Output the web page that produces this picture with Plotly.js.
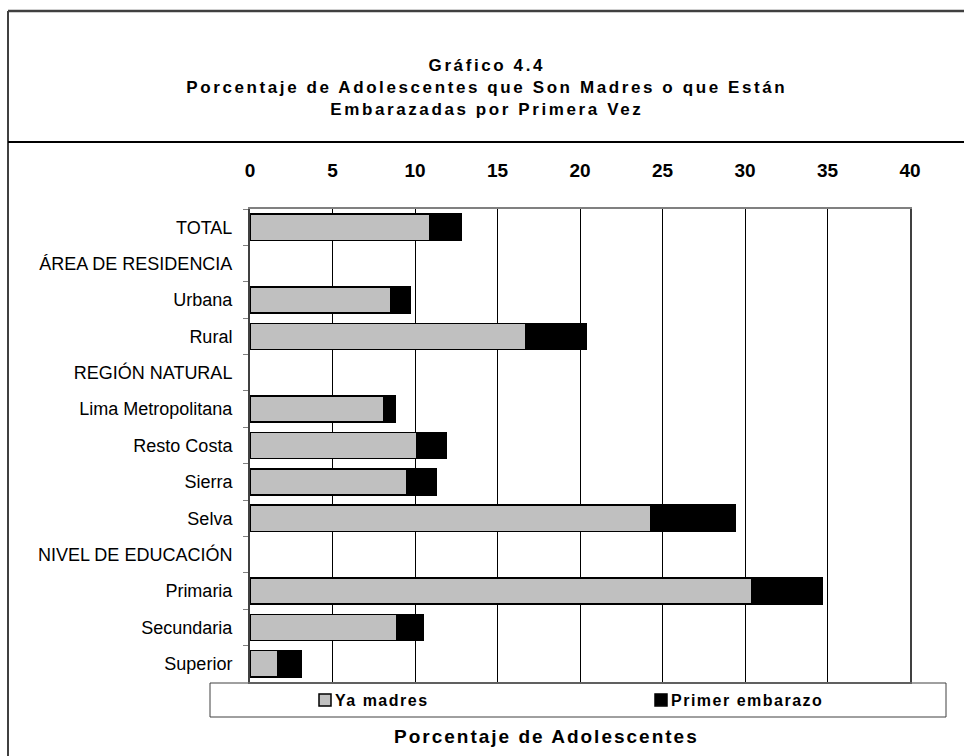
<!DOCTYPE html>
<html>
<head>
<meta charset="utf-8">
<script src="https://cdn.plot.ly/plotly-3.0.1.min.js"></script>
<style>
html,body{margin:0;padding:0;background:#fff;}
#chart{width:964px;height:756px;}
.legendtext,.legend2text{letter-spacing:1.5px;transform:translateX(-10px);}
.gtitle{letter-spacing:2.6px;}
.annotation-text{letter-spacing:2px;}
</style>
</head>
<body>
<div id="chart"></div>
<script>
const categories = ['TOTAL','ÁREA DE RESIDENCIA','Urbana','Rural','REGIÓN NATURAL','Lima Metropolitana','Resto Costa','Sierra','Selva','NIVEL DE EDUCACIÓN','Primaria','Secundaria','Superior'];
const yaMadres = [10.9, null, 8.5, 16.7, null, 8.1, 10.1, 9.5, 24.3, null, 30.4, 8.9, 1.7];
const primerEmbarazo = [1.9, null, 1.2, 3.7, null, 0.7, 1.8, 1.8, 5.1, null, 4.3, 1.6, 1.4];
const seriesNames = ['Ya madres', 'Primer embarazo'];
const xTicks = [0, 5, 10, 15, 20, 25, 30, 35, 40];

const FONT = 'Arial, "Liberation Sans", sans-serif';

const traces = [
  {type:'bar', orientation:'h', name:seriesNames[0], y:categories, x:yaMadres, legend:'legend',
   marker:{color:'#C0C0C0', line:{color:'#000', width:1.5}}, width:0.72, hoverinfo:'x+y'},
  {type:'bar', orientation:'h', name:seriesNames[1], y:categories, x:primerEmbarazo, legend:'legend2',
   marker:{color:'#000000', line:{color:'#000', width:1.5}}, width:0.72, hoverinfo:'x+y'}
];

const legendBase = {
  orientation:'h', xanchor:'left', y:(682-700)/473, yanchor:'middle',
  font:{family:FONT, size:16, weight:'bold', color:'#000'},
  bgcolor:'rgba(0,0,0,0)', borderwidth:0
};

const layout = {
  width:964, height:756,
  paper_bgcolor:'#fff', plot_bgcolor:'#fff',
  barmode:'stack',
  margin:{l:250, r:54, t:209, b:74, pad:0},
  font:{family:FONT, color:'#000'},
  title:{
    text:'Gráfico 4.4<br>Porcentaje de Adolescentes que Son Madres o que Están<br>Embarazadas por Primera Vez',
    font:{family:FONT, size:17, weight:'bold', color:'#000'},
    x:0.505, xanchor:'center', xref:'container',
    y:1-71/756, yanchor:'top', yref:'container'
  },
  xaxis:{
    side:'top', range:[0,40], tickvals:xTicks, ticktext:xTicks.map(String),
    tickfont:{family:FONT, size:19, weight:'bold', color:'#000'},
    ticks:'outside', ticklen:22, tickcolor:'rgba(0,0,0,0)',
    showgrid:true, gridcolor:'#000', gridwidth:1,
    zeroline:false, showline:true, linecolor:'#808080', linewidth:2, mirror:true,
    fixedrange:true
  },
  yaxis:{
    type:'category', autorange:'reversed', categoryorder:'array', categoryarray:categories,
    tickfont:{family:FONT, size:18, color:'#000'},
    ticks:'outside', ticklen:5, tickcolor:'#808080', tickson:'boundaries',
    ticklabelstandoff:12,
    showgrid:false, zeroline:false, showline:true, linecolor:'#404040', linewidth:2, mirror:true,
    fixedrange:true
  },
  showlegend:true,
  legend:Object.assign({}, legendBase, {x:55/660}),
  legend2:Object.assign({}, legendBase, {x:391/660}),
  shapes:[
    {type:'line', xref:'paper', yref:'paper', x0:(8-250)/660, x1:(8-250)/660, y0:(682-11)/473, y1:(682-760)/473, line:{color:'#000', width:1.5}},
    {type:'line', xref:'paper', yref:'paper', x0:(8-250)/660, x1:(970-250)/660, y0:(682-11)/473, y1:(682-11)/473, line:{color:'#404040', width:2.5}},
    {type:'line', xref:'paper', yref:'paper', x0:(8-250)/660, x1:(970-250)/660, y0:(682-142)/473, y1:(682-142)/473, line:{color:'#000', width:2}},
    {type:'rect', xref:'paper', yref:'paper', x0:(210-250)/660, x1:(946-250)/660, y0:(682-683)/473, y1:(682-717)/473, line:{color:'#404040', width:1}, fillcolor:'rgba(0,0,0,0)'}
  ],
  annotations:[
    {text:'Porcentaje de Adolescentes', xref:'paper', yref:'paper', x:(546-250)/660, y:(682-736)/473,
     xanchor:'center', yanchor:'middle', showarrow:false,
     font:{family:FONT, size:19, weight:'bold', color:'#000'}}
  ]
};

Plotly.newPlot('chart', traces, layout, {displayModeBar:false, staticPlot:true});
</script>
</body>
</html>
